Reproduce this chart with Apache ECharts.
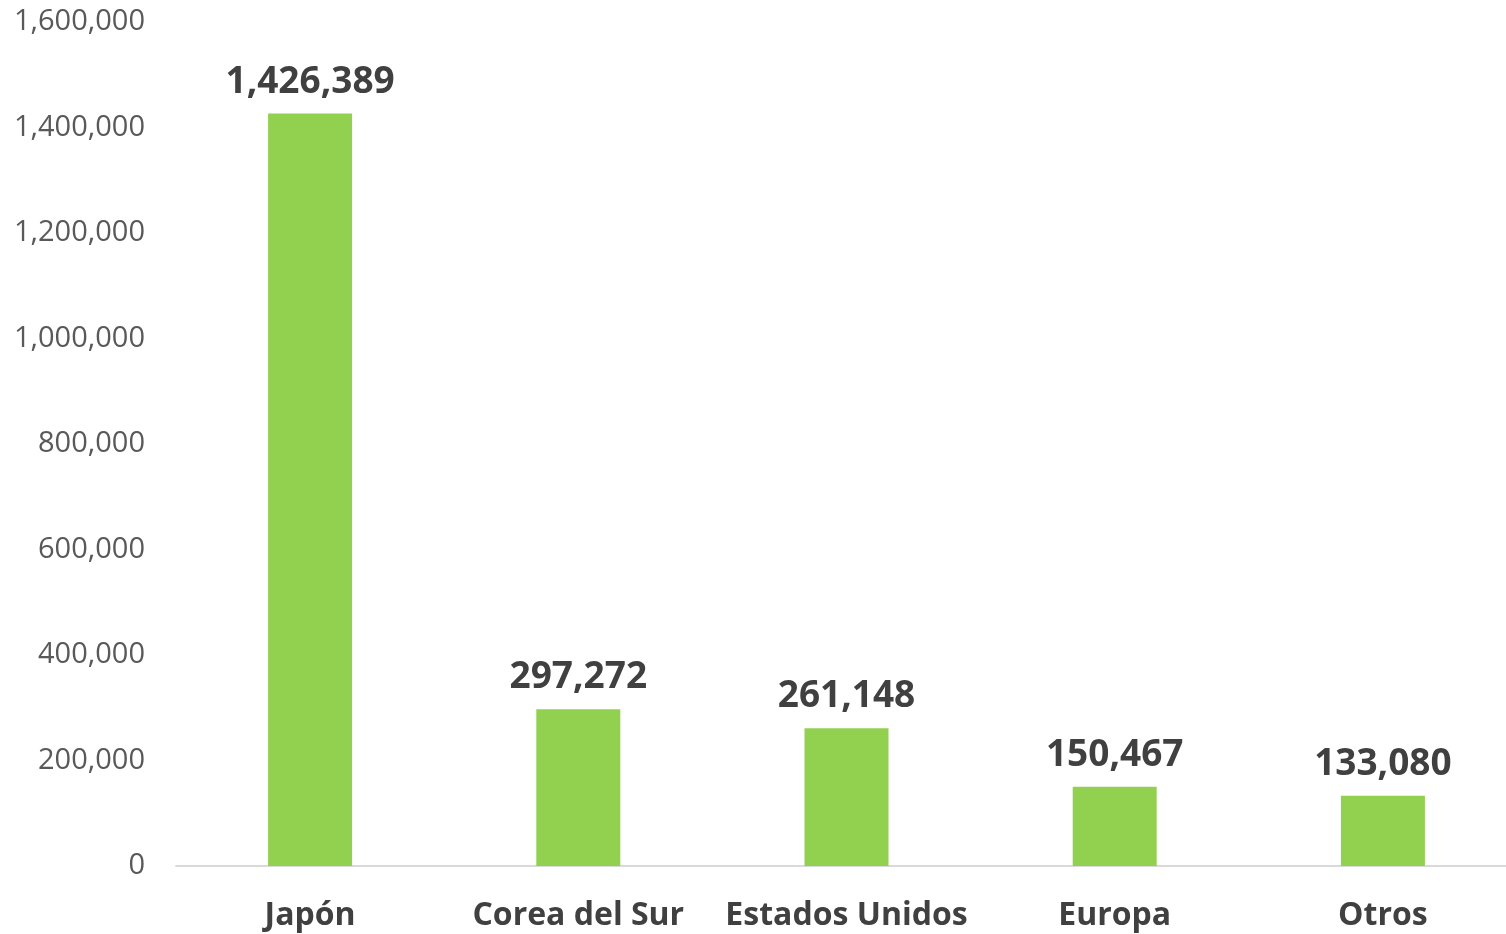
<!DOCTYPE html>
<html>
<head>
<meta charset="utf-8">
<script src="https://cdn.jsdelivr.net/npm/echarts@6/dist/echarts.min.js"></script>
<style>
html,body{margin:0;padding:0;background:#fff;overflow:hidden;}
#chart{width:1517px;height:934px;}
</style>
</head>
<body>
<div id="chart"></div>
<script>
const categories = ['Japón', 'Corea del Sur', 'Estados Unidos', 'Europa', 'Otros'];
const values = [1426389, 297272, 261148, 150467, 133080];
const yTicks = [0, 200000, 400000, 600000, 800000, 1000000, 1200000, 1400000, 1600000];

const fmt = v => v.toLocaleString('en-US');
const chart = echarts.init(document.getElementById('chart'));
chart.setOption({
  animation: false,
  backgroundColor: '#ffffff',
  grid: { left: 176, top: 22, right: 0, bottom: 68, containLabel: false },
  xAxis: {
    type: 'category',
    data: categories,
    axisLine: { show: true, lineStyle: { color: '#d9d9d9', width: 2 } },
    axisTick: { show: false },
    axisLabel: { interval: 0, color: '#404040', fontFamily: 'Open Sans', fontWeight: 'bold', fontSize: 32, margin: 34 }
  },
  yAxis: {
    type: 'value',
    min: yTicks[0],
    max: yTicks[yTicks.length - 1],
    interval: yTicks[1] - yTicks[0],
    splitLine: { show: false },
    axisLine: { show: false },
    axisTick: { show: false },
    axisLabel: { color: '#595959', fontFamily: 'Open Sans', fontSize: 29, margin: 31, formatter: v => fmt(v) }
  },
  series: [{
    type: 'bar',
    data: values,
    barWidth: 84,
    itemStyle: { color: '#92d050' },
    label: {
      show: true,
      position: 'top',
      distance: 13,
      color: '#404040',
      fontFamily: 'Open Sans',
      fontWeight: 'bold',
      fontSize: 37,
      formatter: p => fmt(p.value)
    }
  }]
});
</script>
</body>
</html>
